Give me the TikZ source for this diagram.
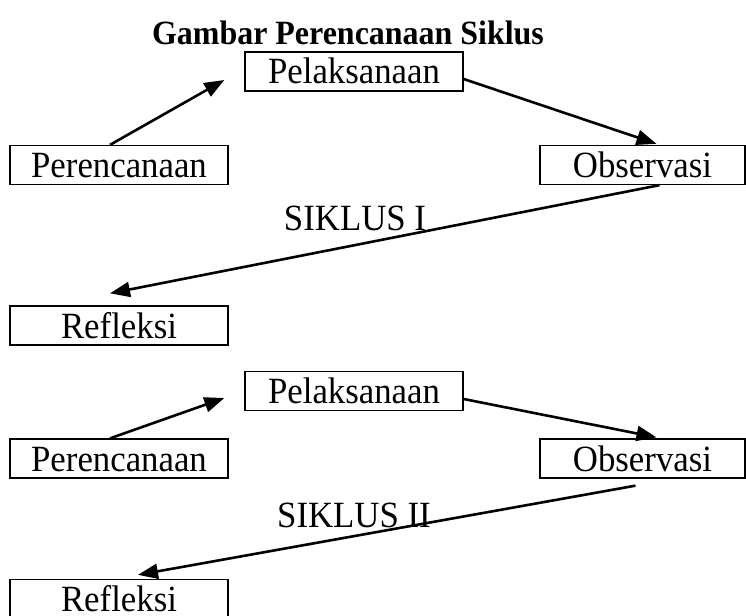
\documentclass[tikz,border=0pt]{standalone}
\usepackage{fontspec}
\setmainfont[FakeStretch=0.94]{Liberation Serif}
\usetikzlibrary{arrows.meta}
\usetikzlibrary{positioning}

\begin{document}
\begin{tikzpicture}[
  x=1pt, y=-1pt,
  every node/.style={font=\fontsize{37}{42}\selectfont, inner sep=0pt},
  box/.style={draw, line width=1.3pt, minimum width=218pt, text height=32pt, text depth=7pt},
  arr/.style={line width=2.6pt, -{Triangle[length=20pt,width=15pt]}}
]
\useasboundingbox (0,0) rectangle (746,615);
\node[font=\fontsize{34}{40}\selectfont\bfseries] (judul) at (348,33) {Gambar Perencanaan Siklus};

\node[box] (pel1) at (354,71.5) {Pelaksanaan};
\node[box] (per1) at (119,165) {Perencanaan};
\node[box, minimum width=205pt] (obs1) at (642.5,165) {Observasi};
\node[box] (ref1) at (119,325.5) {Refleksi};
\node (sik1) at (355,218) {SIKLUS I};

\node[box] (pel2) at (354,391) {Pelaksanaan};
\node[box] (per2) at (119,458.5) {Perencanaan};
\node[box, minimum width=205pt] (obs2) at (642.5,458.5) {Observasi};
\node[box] (ref2) at (119,599) {Refleksi};
\node (sik2) at (354,515) {SIKLUS II};

\draw[arr] ([xshift=-9pt]per1.north) -- ([xshift=-20pt,yshift=-8.5pt]pel1.west);
\draw[arr] ([yshift=-7.5pt]pel1.east) -- ([xshift=14pt,yshift=1pt]obs1.north);
\draw[arr] ([xshift=17pt]obs1.south) -- ([xshift=-9pt,yshift=12pt]ref1.north);

\draw[arr] ([xshift=-9pt]per2.north) -- ([xshift=-20pt,yshift=-7pt]pel2.west);
\draw[arr] ([yshift=-8pt]pel2.east) -- ([xshift=14pt,yshift=1pt]obs2.north);
\draw[arr] ([xshift=-7pt,yshift=-7pt]obs2.south) -- ([xshift=19pt,yshift=4pt]ref2.north);
\end{tikzpicture}
\end{document}
